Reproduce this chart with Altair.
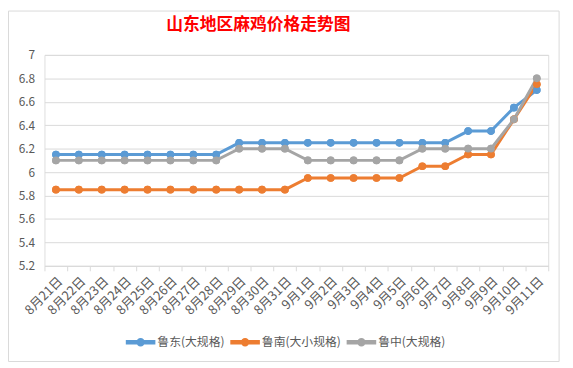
import altair as alt
import pandas as pd

title_text = "山东地区麻鸡价格走势图"
dates = [f"8月{d}日" for d in range(21, 32)] + [f"9月{d}日" for d in range(1, 12)]
series_names = ["鲁东(大规格)", "鲁南(大小规格)", "鲁中(大规格)"]
ludong = [6.15]*8 + [6.25]*10 + [6.35, 6.35, 6.55, 6.7]
lunan = [5.85]*11 + [5.95]*5 + [6.05, 6.05, 6.15, 6.15, 6.45, 6.75]
luzhong = [6.1]*8 + [6.2]*3 + [6.1]*5 + [6.2]*4 + [6.45, 6.8]
colors = ["#5B9BD5", "#ED7D31", "#A5A5A5"]
y_ticks = [5.2, 5.4, 5.6, 5.8, 6.0, 6.2, 6.4, 6.6, 6.8, 7.0]

rows = []
for name, vals in zip(series_names, [ludong, lunan, luzhong]):
    for d, v in zip(dates, vals):
        rows.append({"date": d, "series": name, "line_series": name, "price": v})
df = pd.DataFrame(rows)

W, H = 511, 214
FONT = "Noto Sans CJK SC"

x_enc = alt.X("date:N", sort=dates, bandPosition=0.5,
              scale=alt.Scale(type="band", paddingInner=0, paddingOuter=0),
              axis=alt.Axis(title=None, labelAngle=-45, labelFontSize=13, labelColor="#595959",
                            labelFont=FONT, tickBand="extent", tickColor="#d9d9d9", tickSize=5,
                            domainColor="#d9d9d9", grid=False, labelPadding=4))
y_enc = alt.Y("price:Q", scale=alt.Scale(domain=[5.2, 7.0], nice=False, zero=False),
              axis=alt.Axis(title=None, values=y_ticks, format="~g", labelFontSize=12,
                            labelColor="#595959", labelFont=FONT, domain=False, ticks=False,
                            gridColor="#d9d9d9", labelPadding=10))

path = "M-1.5,-0.16H1.5V0.16H-1.5Z M0.37,0A0.37,0.37,0,1,1,-0.37,0A0.37,0.37,0,1,1,0.37,0Z"
legend = alt.Legend(title=None, orient="none", direction="horizontal",
                    legendX=87, legendY=280.5, symbolType=path, symbolSize=361,
                    labelFontSize=12, labelColor="#595959", labelFont=FONT,
                    labelOffset=6.5, columnPadding=3)

points = alt.Chart(df).mark_point(filled=True, size=60, opacity=1).encode(
    x=x_enc, y=y_enc,
    color=alt.Color("series:N", scale=alt.Scale(domain=series_names, range=colors),
                    sort=series_names, legend=legend),
)
lines = alt.Chart(df).mark_line(strokeWidth=3).encode(
    x=x_enc, y=y_enc,
    stroke=alt.Stroke("line_series:N", scale=alt.Scale(domain=series_names, range=colors),
                      sort=series_names, legend=None),
)

frame = alt.Chart(pd.DataFrame({"k": [0]})).mark_rect(
    fill="transparent", stroke="#d9d9d9", strokeWidth=1
).encode(x=alt.value(-36.5), x2=alt.value(W + 11), y=alt.value(-44.5), y2=alt.value(H + 97))

title = alt.Chart(pd.DataFrame({"k": [0]})).mark_text(
    text=title_text, color="#FF0000", fontSize=17, fontWeight="bold", font=FONT,
    align="center", baseline="middle"
).encode(x=alt.value(217), y=alt.value(-30))

chart = alt.layer(points, lines, points, frame, title).properties(
    width=W, height=H,
    autosize=alt.AutoSizeParams(type="none"),
    padding={"left": 37, "top": 45, "right": 17, "bottom": 100},
).configure_view(stroke=None).configure(background="white")

chart.save("out.html", embed_options={"renderer": "svg", "actions": False})
